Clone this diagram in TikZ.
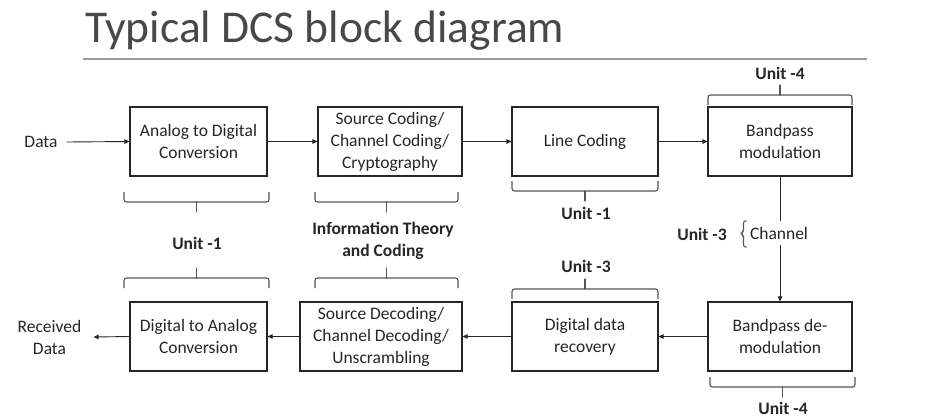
\documentclass[tikz,border=0pt]{standalone}
\usepackage{fontspec}
\setmainfont{Carlito}
\usetikzlibrary{arrows.meta}
\definecolor{ink}{HTML}{262626}
\definecolor{bracegray}{HTML}{555555}
\definecolor{titlegray}{HTML}{484848}
\definecolor{rulegray}{HTML}{9A9A9A}
% square-armed brace between x=#1 and x=#2, ends at y=#3, tip towards sign #4
\newcommand\unitbrace[4]{%
  \draw[brc] (#1,#3) -- (#1,{#3+10*#4}) -- (#2,{#3+10*#4}) -- (#2,#3);
  \draw[brc,line cap=round] ({(#1+#2)/2},{#3+10*#4}) -- ({(#1+#2)/2},{#3+20*#4});}
\begin{document}
\begin{tikzpicture}[x=1pt,y=-1pt,
  blk/.style={draw=ink,line width=1.1pt,inner sep=0pt,align=center,text=ink,
    minimum height=69pt,font=\fontsize{17.5}{22}\selectfont},
  lbl/.style={text=ink,align=center,inner sep=0pt,font=\fontsize{17.5}{22}\selectfont},
  unit/.style={lbl,font=\bfseries\fontsize{17.5}{22}\selectfont},
  flow/.style={draw=ink,line width=0.9pt,-{Triangle[length=5pt,width=4.5pt]}},
  brc/.style={draw=bracegray,line width=1.1pt,rounded corners=2.5pt},
  ]
\useasboundingbox[fill=white] (0,0) rectangle (926,418);

% heading and rule
\node[anchor=base west,inner sep=0pt,text=titlegray,font=\fontsize{45.5}{50}\selectfont]
  (title) at (85,42) {Typical DCS block diagram};
\coordinate (ruleL) at (83,59);
\coordinate (ruleR) at (867,59);
\draw[rulegray,line width=1.3pt] (ruleL) -- (ruleR);

% transmitter chain
\node[blk,minimum width=137pt] (adc) at (198.5,141.5) {Analog to Digital\\Conversion};
\node[blk,minimum width=144pt] (sc)  at (390,141.5)   {Source Coding/\\Channel Coding/\\Cryptography};
\node[blk,minimum width=146pt] (lc)  at (585,141.5)   {Line Coding};
\node[blk,minimum width=144pt] (bm)  at (780,141.5)   {Bandpass\\modulation};

% receiver chain
\node[blk,minimum width=137pt] (dac) at (198.5,336.5) {Digital to Analog\\Conversion};
\node[blk,minimum width=162pt] (sd)  at (381,336.5)   {Source Decoding/\\Channel Decoding/\\Unscrambling};
\node[blk,minimum width=146pt] (ddr) at (585,336.5)   {Digital data\\recovery};
\node[blk,minimum width=144pt] (bd)  at (780,336.5)   {Bandpass de-\\modulation};

% end points
\node[lbl] (data) at (41,142) {Data};
\node[lbl] (rx)   at (49.5,337) {Received\\Data};

% signal flow
\draw[flow] ([xshift=9pt]data.east) -- (adc.west);
\draw[flow] (adc.east) -- (sc.west);
\draw[flow] (sc.east) -- (lc.west);
\draw[flow] (lc.east) -- (bm.west);
\draw[flow] (bm.south) -- (bd.north);
\draw[flow] (bd.west) -- (ddr.east);
\draw[flow] (ddr.west) -- (sd.east);
\draw[flow] (sd.west) -- (dac.east);
\draw[flow] (dac.west) -- ([xshift=12pt]rx.east);

% channel
\node[lbl,fill=white,inner sep=6pt] (chan) at (779,233) {Channel};
\draw[brc,rounded corners=2pt] (746.5,221) -- (743.5,221) -- (743.5,231.5) -- (741,233.5)
  -- (743.5,235.5) -- (743.5,247) -- (746.5,247);
\node[unit] (u3c) at (702,234) {Unit -3};

% unit braces, transmitter side
\unitbrace{124}{269}{192}{1}
\unitbrace{315}{458}{192}{1}
\unitbrace{512}{658}{181}{1}
\unitbrace{708}{852}{105}{-1}

% unit braces, receiver side
\unitbrace{124}{269}{288}{-1}
\unitbrace{315}{458}{288}{-1}
\unitbrace{512}{658}{299}{-1}
\unitbrace{710}{855}{377}{1}

% unit labels
\node[unit] (u1a) at (197,243) {Unit -1};
\node[unit] (itc) at (383,241) {Information Theory\\and Coding};
\node[unit] (u1b) at (586,213) {Unit -1};
\node[unit] (u4a) at (780,73)  {Unit -4};
\node[unit] (u3b) at (586,266) {Unit -3};
\node[unit] (u4b) at (783,408) {Unit -4};
\end{tikzpicture}
\end{document}
